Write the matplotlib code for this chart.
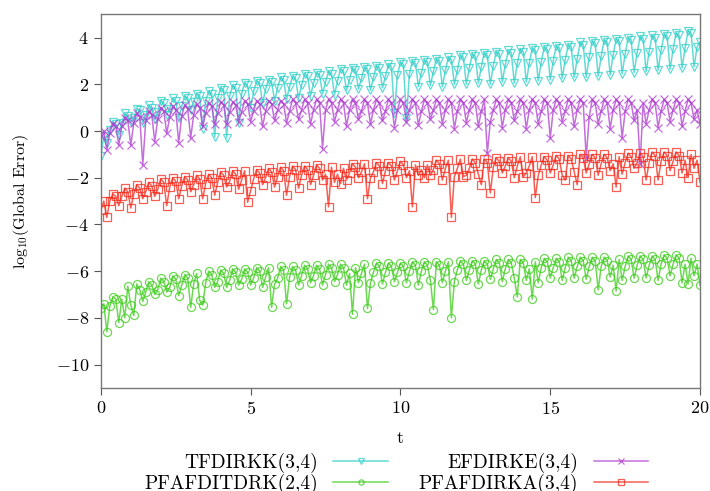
import numpy as np
import matplotlib
matplotlib.use("Agg")
import matplotlib.pyplot as plt

plt.rcParams['font.family'] = 'serif'
plt.rcParams['font.serif'] = ['cmr10']
plt.rcParams['mathtext.fontset'] = 'cm'
plt.rcParams['axes.formatter.use_mathtext'] = True

## sample times, step 0.1 from 0 to 20
t = np.arange(201) * 0.1

## log10 of global error (one row = one time unit)
tfdirkk = [
    -1.05, -0.2, -0.5, 0.05, 0.4, 0.3, -0.15, 0.35, 0.75, 0.65,
    0.4, 0.55, 0.95, 0.9, 0.35, 0.7, 1.1, 1.0, 0.5, 0.8,
    1.3, 1.2, 0.7, 0.95, 1.4, 1.3, 0.55, 1.05, 1.5, 1.4,
    0.9, 1.25, 1.6, 1.5, 0.1, 1.3, 1.7, 1.6, -0.25, 1.4,
    1.85, 1.75, -0.3, 1.5, 1.95, 1.85, 0.35, 1.6, 2.05, 1.95,
    1.0, 1.7, 2.15, 2.05, 1.2, 1.8, 2.2, 2.1, 1.3, 1.85,
    2.3, 2.2, 1.35, 1.9, 2.35, 2.25, 1.4, 1.95, 2.45, 2.35,
    1.5, 2.05, 2.5, 2.4, 1.6, 2.1, 2.55, 2.45, 1.55, 2.15,
    2.65, 2.55, 1.75, 2.2, 2.7, 2.6, 1.8, 2.25, 2.75, 2.65,
    1.75, 2.3, 2.8, 2.7, 1.85, 2.35, 2.85, 2.75, 0.75, 2.4,
    2.95, 2.85, 0.55, 2.45, 3.0, 2.9, 1.9, 2.5, 3.05, 2.95,
    1.95, 2.55, 3.1, 3.0, 1.9, 2.6, 3.15, 3.05, 2.0, 2.6,
    3.25, 3.15, 2.0, 2.7, 3.3, 3.2, 2.05, 2.75, 3.35, 3.25,
    2.0, 2.8, 3.4, 3.3, 2.1, 2.85, 3.45, 3.35, 2.05, 2.9,
    3.5, 3.4, 2.1, 2.9, 3.55, 3.45, 2.15, 2.95, 3.6, 3.5,
    2.2, 3.0, 3.65, 3.55, 2.25, 3.05, 3.7, 3.6, 2.3, 3.1,
    3.8, 3.7, 2.3, 3.15, 3.85, 3.75, 2.35, 3.2, 3.9, 3.8,
    2.4, 3.25, 3.95, 3.85, 2.45, 3.3, 4.0, 3.9, 2.5, 3.35,
    4.05, 3.95, 2.55, 3.4, 4.1, 4.0, 2.6, 3.45, 4.15, 4.05,
    2.65, 3.5, 4.2, 4.1, 2.7, 3.55, 4.3, 4.2, 2.75, 3.6,
    3.8,
]

efdirke = [
    -0.2, 0.0, -0.8, -0.1, 0.3, 0.2, -0.6, 0.2, 0.55, 0.45,
    -0.6, 0.35, 0.75, 0.6, -1.45, 0.45, 0.85, 0.7, -0.45, 0.5,
    1.0, 0.85, -0.1, 0.6, 1.05, 0.9, -0.5, 0.65, 1.1, 0.95,
    -0.3, 0.7, 1.15, 1.0, 0.2, 0.75, 1.2, 1.05, 0.3, 0.75,
    1.25, 1.1, 0.3, 0.8, 1.25, 1.1, 0.4, 0.8, 1.3, 1.15,
    0.4, 0.85, 1.3, 1.15, 0.2, 0.85, 1.3, 1.15, 0.45, 0.9,
    1.3, 1.15, 0.35, 0.85, 1.35, 1.2, 0.5, 0.9, 1.35, 1.2,
    0.3, 0.9, 1.35, 1.2, -0.75, 0.9, 1.35, 1.2, 0.4, 0.9,
    1.35, 1.2, 0.2, 0.9, 1.35, 1.2, 0.5, 0.85, 1.35, 1.2,
    0.3, 0.9, 1.35, 1.2, 0.45, 0.85, 1.35, 1.2, 0.15, 0.9,
    1.35, 1.2, 0.4, 0.9, 1.35, 1.2, 0.25, 0.85, 1.35, 1.2,
    0.5, 0.9, 1.35, 1.2, 0.3, 0.9, 1.35, 1.2, 0.1, 0.85,
    1.35, 1.2, 0.35, 0.9, 1.35, 1.2, 0.2, 0.85, 1.35, -0.95,
    0.4, 0.9, 1.35, 1.2, 0.15, 0.9, 1.35, 1.2, 0.45, 0.85,
    1.35, 1.2, 0.1, 0.9, 1.35, 1.2, 0.3, 0.85, 1.35, 1.2,
    -0.3, 0.9, 1.35, 1.2, 0.4, 0.85, 1.35, 1.2, 0.2, 0.9,
    1.35, 1.2, -1.15, 0.6, 1.35, 1.2, 0.3, 0.85, 1.35, 1.2,
    0.1, 0.9, 1.35, 1.2, -0.3, 0.85, 1.35, 1.2, 0.45, 0.9,
    -1.4, 1.2, 0.3, 0.9, 1.35, 1.2, 0.15, 0.85, 1.35, 1.2,
    0.4, 0.9, 1.35, 1.2, 0.2, 0.85, 1.35, 1.2, 0.5, 0.9,
    0.3,
]

pfafditdrk = [
    -7.6, -7.4, -8.6, -7.5, -7.1, -7.2, -8.2, -7.2, -8.0, -6.65,
    -7.45, -7.9, -6.55, -6.8, -7.3, -6.9, -6.45, -6.6, -7.0, -6.8,
    -6.3, -6.45, -6.9, -6.7, -6.2, -6.35, -7.05, -6.6, -6.15, -6.3,
    -7.55, -6.55, -6.1, -7.25, -7.45, -6.5, -6.0, -6.15, -6.7, -6.45,
    -5.95, -6.1, -6.7, -6.4, -5.9, -6.05, -6.6, -6.35, -5.9, -6.05,
    -6.6, -6.3, -5.85, -6.0, -6.7, -6.25, -5.85, -7.55, -6.55, -6.3,
    -5.8, -5.95, -7.4, -6.25, -5.8, -5.95, -6.6, -6.2, -5.75, -5.9,
    -6.5, -6.2, -5.75, -5.9, -6.6, -6.15, -5.7, -5.85, -6.45, -6.15,
    -5.7, -5.85, -6.6, -6.1, -7.85, -5.85, -6.5, -6.1, -5.7, -7.6,
    -6.5, -6.05, -5.65, -5.8, -6.55, -6.05, -5.65, -5.8, -6.45, -6.05,
    -5.65, -5.8, -6.5, -6.0, -5.6, -5.75, -6.6, -6.0, -5.6, -5.75,
    -6.4, -7.65, -5.6, -5.75, -6.5, -6.0, -5.6, -8.0, -6.45, -5.95,
    -5.55, -5.7, -6.4, -5.95, -5.55, -5.7, -6.55, -5.95, -5.55, -5.7,
    -6.35, -5.9, -5.5, -5.65, -6.45, -5.9, -5.5, -5.65, -6.3, -7.1,
    -5.5, -5.65, -6.4, -5.9, -7.2, -5.6, -6.5, -5.85, -5.45, -5.6,
    -6.3, -5.85, -5.45, -5.6, -6.4, -5.85, -5.4, -5.55, -6.3, -5.8,
    -5.4, -5.55, -6.35, -5.8, -5.4, -5.55, -6.8, -5.8, -5.4, -5.55,
    -6.25, -5.75, -6.85, -5.5, -6.4, -5.8, -5.35, -5.5, -6.3, -5.75,
    -5.35, -5.5, -6.3, -5.75, -5.35, -5.5, -6.4, -5.7, -5.3, -5.45,
    -6.2, -5.7, -5.3, -5.45, -6.5, -5.7, -6.55, -5.45, -6.2, -5.7,
    -6.6,
]

pfafdirka = [
    -3.4, -3.0, -3.7, -3.0, -2.7, -2.8, -3.2, -2.8, -2.45, -2.6,
    -3.3, -2.7, -2.3, -2.45, -2.9, -2.6, -2.2, -2.35, -2.8, -2.5,
    -2.05, -2.2, -3.2, -2.4, -2.0, -2.15, -2.9, -2.35, -1.95, -2.1,
    -2.6, -2.3, -1.9, -2.05, -2.9, -2.25, -1.85, -2.0, -2.75, -2.2,
    -1.75, -1.9, -2.4, -2.15, -1.7, -1.85, -2.5, -2.1, -1.7, -3.05,
    -2.55, -2.05, -1.65, -1.8, -2.3, -2.0, -1.6, -1.75, -2.4, -1.95,
    -1.55, -1.7, -2.75, -1.95, -1.5, -1.65, -2.45, -1.9, -1.5, -1.65,
    -2.3, -1.9, -1.45, -1.6, -2.1, -1.85, -3.25, -1.55, -2.2, -1.85,
    -2.25, -1.6, -2.1, -1.8, -1.4, -1.55, -2.0, -1.75, -1.4, -2.9,
    -2.0, -1.75, -1.35, -1.5, -2.25, -1.7, -1.35, -1.5, -2.1, -1.7,
    -1.3, -1.45, -2.0, -1.7, -3.25, -1.45, -1.9, -1.65, -2.0, -1.45,
    -1.9, -1.65, -1.25, -1.4, -2.1, -1.6, -1.25, -3.7, -1.95, -1.6,
    -1.2, -1.95, -1.9, -1.6, -1.2, -1.35, -1.85, -2.3, -1.2, -1.35,
    -2.65, -1.55, -1.15, -1.3, -1.8, -1.5, -1.15, -1.3, -2.0, -1.5,
    -1.1, -1.95, -1.8, -1.5, -1.1, -2.85, -1.9, -1.45, -1.1, -1.25,
    -1.8, -1.45, -1.05, -1.2, -1.9, -2.1, -1.05, -1.2, -1.75, -2.3,
    -1.0, -1.15, -1.8, -1.4, -1.0, -1.15, -1.9, -1.4, -1.0, -1.15,
    -1.7, -1.4, -2.4, -1.1, -1.85, -1.35, -0.95, -1.1, -1.6, -1.35,
    -0.95, -1.1, -2.1, -1.35, -0.9, -1.05, -2.1, -1.3, -0.9, -1.05,
    -1.7, -1.3, -0.9, -1.05, -1.8, -1.25, -2.0, -1.0, -1.6, -1.25,
    -2.2,
]

fig = plt.figure(figsize=(7.1, 4.91), dpi=100)
ax = fig.add_axes([0.142, 0.210, 0.844, 0.761])

style = dict(linewidth=1.1, markersize=5.8, markerfacecolor='none',
             markeredgewidth=0.9, alpha=0.75)

l1, = ax.plot(t, tfdirkk, color='#2fcfc8', marker='v', label='TFDIRKK(3,4)', **style)
l2, = ax.plot(t, efdirke, color='#b03fd0', marker='x', label='EFDIRKE(3,4)', **style)
l3, = ax.plot(t, pfafditdrk, color='#3ccc1a', marker='o', label='PFAFDITDRK(2,4)', **style)
l4, = ax.plot(t, pfafdirka, color='#f52a1c', marker='s', label='PFAFDIRKA(3,4)', **style)

ax.set_xlim(0, 20)
ax.set_ylim(-11, 5)
ax.set_xticks([0, 5, 10, 15, 20])
ax.set_yticks([-10, -8, -6, -4, -2, 0, 2, 4])
ax.tick_params(direction='out', length=5, width=0.8, colors='#555555',
               labelcolor='black', labelsize=13, top=False, right=False)
for sp in ax.spines.values():
    sp.set_color('#777777')
    sp.set_linewidth(1.0)

ax.set_xlabel('t', fontsize=13, labelpad=10)
ax.set_ylabel(r'$\mathrm{log}_{10}$(Global Error)', fontsize=11.5, labelpad=18)

fig.legend(handles=[l1, l3, l2, l4], ncol=2, loc='upper center',
           bbox_to_anchor=(0.558, 0.098), frameon=False, markerfirst=False,
           numpoints=1, markerscale=0.65, fontsize=14, handlelength=2.8,
           handletextpad=0.8, columnspacing=1.6, labelspacing=0.05, borderpad=0)

fig.savefig('out.png', dpi=100)
